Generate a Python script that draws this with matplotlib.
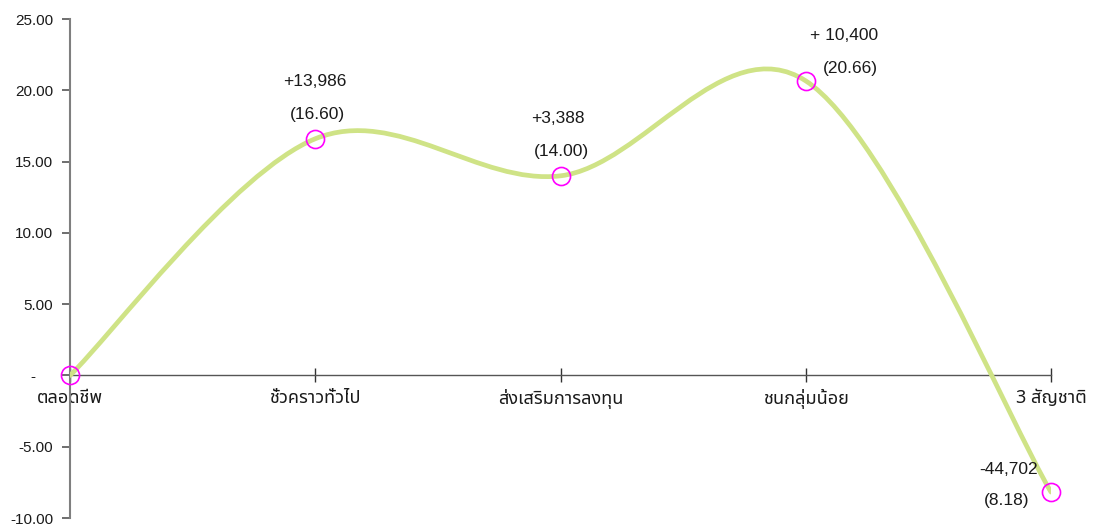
import matplotlib
matplotlib.use("Agg")
import matplotlib.pyplot as plt
from matplotlib.path import Path
from matplotlib.patches import PathPatch
from matplotlib import font_manager
from matplotlib.ft2font import FT2Font

categories = ["ตลอดชีพ", "ชั่วคราวทั่วไป", "ส่งเสริมการลงทุน", "ชนกลุ่มน้อย", "3 สัญชาติ"]
values = [0.0, 16.60, 14.00, 20.66, -8.18]
change_labels = ["", "+13,986", "+3,388", "+ 10,400", "-44,702"]
value_labels = ["", "(16.60)", "(14.00)", "(20.66)", "(8.18)"]
yticks = [-10, -5, 0, 5, 10, 15, 20, 25]
ytick_labels = ["-10.00", "-5.00", "-    ", "5.00", "10.00", "15.00", "20.00", "25.00"]

# find a font with Thai glyphs
thai_font = None
prefer = ["Tahoma", "Noto Sans Thai", "Loma", "Garuda", "Waree", "Norasi", "Kinnari", "Sawasdee", "Umpush"]
cands = []
for fe in font_manager.fontManager.ttflist:
    try:
        cm = FT2Font(fe.fname).get_charmap()
        if 0x0E01 in cm and 0x0E2A in cm:
            cands.append(fe.name)
    except Exception:
        pass
for p in prefer:
    if p in cands:
        thai_font = p
        break
if thai_font is None and cands:
    thai_font = cands[0]
thai_family = ([thai_font] if thai_font else []) + ["Liberation Sans", "DejaVu Sans"]

plt.rcParams['font.family'] = ["Liberation Sans", "DejaVu Sans"]

fig = plt.figure(figsize=(10.93, 5.25), dpi=100)
ax = fig.add_axes([70/1093, 1 - 518/525, (1051 - 70)/1093, (518 - 19)/525])
ax.set_xlim(0, len(categories) - 1)
ax.set_ylim(-10, 25)

# Excel-style smoothed line (cubic Bezier through points)
xs = list(range(len(values)))
pts = list(zip(xs, values))
n = len(pts)
verts = [pts[0]]
codes = [Path.MOVETO]
for i in range(n - 1):
    p_prev = pts[i - 1] if i > 0 else pts[i]
    p0 = pts[i]
    p1 = pts[i + 1]
    p_next = pts[i + 2] if i + 2 < n else pts[i + 1]
    c1 = (p0[0] + (p1[0] - p_prev[0]) / 6, p0[1] + (p1[1] - p_prev[1]) / 6)
    c2 = (p1[0] - (p_next[0] - p0[0]) / 6, p1[1] - (p_next[1] - p0[1]) / 6)
    verts += [c1, c2, p1]
    codes += [Path.CURVE4] * 3
ax.add_patch(PathPatch(Path(verts, codes), facecolor="none", edgecolor="#cfe386",
                       lw=3.4, capstyle="round", zorder=3))

ax.plot(xs, values, linestyle="none", marker="o", markersize=13, markerfacecolor="none",
        markeredgecolor="#ff00ff", markeredgewidth=1.2, zorder=4, clip_on=False)

# annotations (offsets in pixels: change label dx, dy, value label dx, dy)
ann_offsets = [None, (0, 57, 2, 24), (-3, 57, 1, 24), (38, 45, 45, 12), (-42, 23, -44, -8)]
for i in range(1, n):
    dx1, dy1, dx2, dy2 = ann_offsets[i]
    ax.annotate(change_labels[i], (xs[i], values[i]), xytext=(dx1, dy1), textcoords="offset pixels",
                ha="center", va="center", fontsize=12.5, color="#1a1a1a")
    ax.annotate(value_labels[i], (xs[i], values[i]), xytext=(dx2, dy2), textcoords="offset pixels",
                ha="center", va="center", fontsize=12.5, color="#1a1a1a")

# axes styling
for s in ["top", "right"]:
    ax.spines[s].set_visible(False)
ax.spines["left"].set_color("#7f7f7f")
ax.spines["left"].set_linewidth(1.5)
ax.spines["bottom"].set_position(("data", 0))
ax.spines["bottom"].set_color("#555555")
ax.spines["bottom"].set_linewidth(1.0)

ax.set_yticks(yticks)
ax.set_yticklabels(ytick_labels)
ax.tick_params(axis="y", direction="out", length=6, width=1.2, color="#555555",
               labelsize=11, labelcolor="#1a1a1a", pad=6)
ax.set_xticks(xs)
ax.set_xticklabels(categories, family=thai_family)
ax.tick_params(axis="x", direction="inout", length=10, width=1.0, color="#333333",
               labelsize=13, labelcolor="#1a1a1a", pad=5)

fig.savefig("out.png", dpi=100)
